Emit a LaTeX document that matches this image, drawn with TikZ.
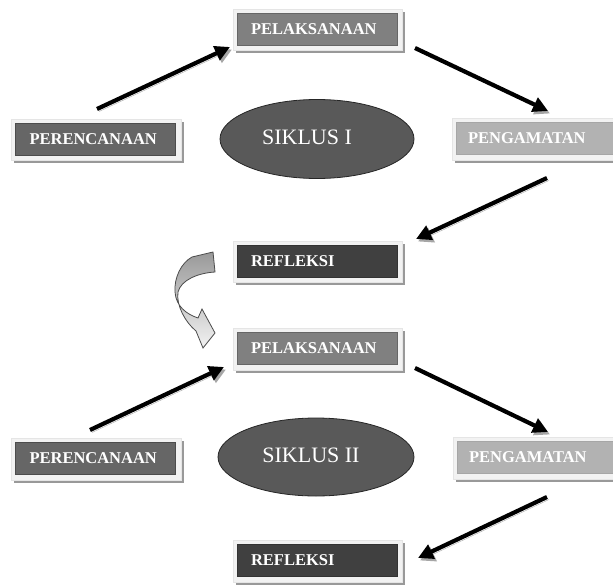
\documentclass[tikz,border=0pt]{standalone}
\usepackage{fontspec}
\setmainfont{Liberation Serif}
\usetikzlibrary{arrows.meta,shapes.geometric,backgrounds}
\begin{document}
\begin{tikzpicture}[x=1pt,y=-1pt,
  stagebox/.style={rectangle, inner xsep=14pt, inner ysep=0pt, text width=132pt,
     minimum height=32pt, align=left, text=white,
     font=\fontsize{16.5}{19}\selectfont\bfseries},
  cyclebox/.style={ellipse, fill=black!65, draw=black!85, line width=0.8pt,
     minimum width=194pt, minimum height=79pt, inner sep=0pt},
  cycletext/.style={text=white, inner sep=0pt, font=\fontsize{22}{25}\selectfont},
  flowarrow/.style={line width=4.2pt, -{Triangle[length=15pt,width=15pt]},
     preaction={draw=black!35, transform canvas={xshift=2pt,yshift=-2.5pt}}},
  turnarrow/.style={draw=black!70, line width=0.8pt, top color=black!40, bottom color=black!5}
]
\useasboundingbox (0,0) rectangle (613,586);

% boxes
\node[stagebox, fill=black!50, draw=black!60] (p1) at (317,29) {PELAKSANAAN};
\node[stagebox, fill=black!60, draw=black!70] (r1) at (95.5,139) {PERENCANAAN};
\node[stagebox, fill=black!30, draw=black!35, inner xsep=12pt, text width=136pt] (g1) at (536,138.5) {PENGAMATAN};
\node[stagebox, fill=black!75, draw=black!80] (f1) at (317,261) {REFLEKSI};
\node[stagebox, fill=black!50, draw=black!60] (p2) at (317,348.5) {PELAKSANAAN};
\node[stagebox, fill=black!60, draw=black!70] (r2) at (95.5,458.5) {PERENCANAAN};
\node[stagebox, fill=black!30, draw=black!35, inner xsep=12pt, text width=136pt] (g2) at (537,457.5) {PENGAMATAN};
\node[stagebox, fill=black!75, draw=black!80] (f2) at (317,560.5) {REFLEKSI};

% frames and shadows
\begin{scope}[on background layer]
\fill[white] (0,0) rectangle (613,586);
\foreach \n in {p1,r1,g1,f1,p2,r2,g2,f2}{
  \fill[black!40] ([xshift=-1pt,yshift=-8pt]\n.south west) rectangle ([xshift=8pt,yshift=1pt]\n.north east);
  \filldraw[fill=black!5, draw=black!10, line width=0.4pt] ([xshift=-4pt,yshift=-5pt]\n.south west) rectangle ([xshift=5pt,yshift=4pt]\n.north east);
}
\end{scope}

% cycles
\node[cyclebox] (e1) at (317,139) {};
\node[cycletext] (t1) at ([xshift=-10pt,yshift=2pt]e1.center) {SIKLUS I};
\node[cyclebox, minimum width=196pt, minimum height=78pt] (e2) at (316,457) {};
\node[cycletext] (t2) at ([xshift=-5pt,yshift=2pt]e2.center) {SIKLUS II};

% arrow end points
\coordinate (a1s) at (97,109);
\coordinate (a1e) at (230,47);
\coordinate (a2s) at (415,48);
\coordinate (a2e) at (548,111);
\coordinate (a3s) at (547,178);
\coordinate (a3e) at (416,239);
\coordinate (a4s) at (90,430);
\coordinate (a4e) at (224,367);
\coordinate (a5s) at (415,368);
\coordinate (a5e) at (548,432);
\coordinate (a6s) at (547,497);
\coordinate (a6e) at (418,558);

\draw[flowarrow] (a1s) -- (a1e);
\draw[flowarrow] (a2s) -- (a2e);
\draw[flowarrow] (a3s) -- (a3e);
\draw[flowarrow] (a4s) -- (a4e);
\draw[flowarrow] (a5s) -- (a5e);
\draw[flowarrow] (a6s) -- (a6e);

% curved arrow between cycles
\path[turnarrow] (213,252) -- (192,257)
  .. controls (181,263) and (174,278) .. (175,292)
  .. controls (176,306) and (186,314) .. (198,318)
  -- (202,309) -- (215,333) -- (203,348) -- (196,331)
  .. controls (185,322) and (176,305) .. (178,292)
  .. controls (181,280) and (198,273) .. (215,272) -- cycle;
\end{tikzpicture}
\end{document}
